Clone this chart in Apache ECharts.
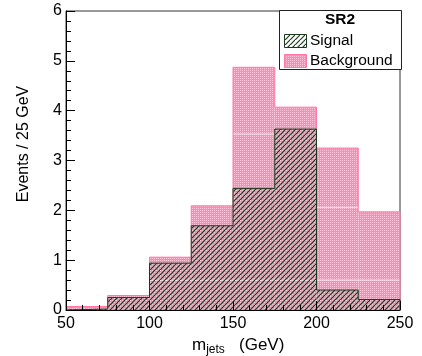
<!DOCTYPE html>
<html><head><meta charset="utf-8">
<script src="https://cdn.jsdelivr.net/npm/echarts@6/dist/echarts.min.js"></script>
<style>html,body{margin:0;padding:0;background:#fff}#c{width:422px;height:356px}</style>
</head><body><div id="c"></div>
<script>
// ---- data ----
const binEdges = [50, 75, 100, 125, 150, 175, 200, 225, 250];
const signal = [0.02, 0.25, 0.94, 1.69, 2.44, 3.63, 0.40, 0.21];
const background = [0.07, 0.29, 1.06, 2.09, 4.87, 4.07, 3.25, 1.97];
// faint internal boundaries seen inside the background fill: [xFrom, xTo, level]
const bgSubLines = [[100, 250, 0.6], [150, 175, 3.53], [200, 225, 2.06]];
const legendTitle = 'SR2';
const legendNames = ['Signal', 'Background'];
const yTitle = 'Events / 25 GeV';

// ---- patterns ----
function hatchCanvas() {
  const s = 5, c = document.createElement('canvas');
  c.width = c.height = s;
  const g = c.getContext('2d');
  g.strokeStyle = '#1e3a1e'; g.lineWidth = 1.15;
  [0, s, 2 * s].forEach(k => { g.beginPath(); g.moveTo(0, k); g.lineTo(k, 0); g.stroke(); });
  return c;
}
function pinkCanvas() {
  const c = document.createElement('canvas');
  c.width = c.height = 2;
  const g = c.getContext('2d');
  g.fillStyle = '#ff8ab4'; g.fillRect(0, 0, 2, 2);
  g.fillStyle = '#ffc2d8'; g.fillRect(0, 0, 1, 1);
  return c;
}
const hatchFill = { image: hatchCanvas(), repeat: 'repeat' };
const pinkFill = { image: pinkCanvas(), repeat: 'repeat' };

function histData(vals) { return vals.map((v, i) => [binEdges[i], v, binEdges[i + 1]]); }
function stepData(vals) {
  const d = [[binEdges[0], 0]];
  vals.forEach((v, i) => d.push([binEdges[i], v]));
  d.push([binEdges[binEdges.length - 1], vals[vals.length - 1]]);
  d.push([binEdges[binEdges.length - 1], 0]);
  return d;
}
function rectItem(fill) {
  return function (params, api) {
    const p0 = api.coord([api.value(0), 0]);
    const p1 = api.coord([api.value(2), api.value(1)]);
    return { type: 'rect', shape: { x: p0[0], y: p1[1], width: p1[0] - p0[0], height: p0[1] - p1[1] }, style: { fill: fill } };
  };
}

const font = '"Liberation Sans", Arial, Helvetica, sans-serif';
const chart = echarts.init(document.getElementById('c'), null, { renderer: 'canvas' });
const axisCommon = {
  axisLine: { show: true, lineStyle: { color: '#000', width: 1 } },
  axisTick: { show: true, inside: true, length: 9, lineStyle: { color: '#000' } },
  minorTick: { show: true, splitNumber: 5, length: 5, lineStyle: { color: '#000' } },
  splitLine: { show: false },
  axisLabel: { color: '#000', fontSize: 16, fontFamily: font },
  z: 10
};
chart.setOption({
  animation: false,
  grid: { left: 66, right: 22, top: 11, bottom: 46, show: true, borderColor: '#333', borderWidth: 1, backgroundColor: 'transparent' },
  xAxis: Object.assign({ type: 'value', min: 50, max: 250, interval: 50 }, axisCommon,
    { axisLabel: Object.assign({}, axisCommon.axisLabel, { margin: 6 }) }),
  yAxis: Object.assign({ type: 'value', min: 0, max: 6, interval: 1 }, axisCommon,
    { axisLabel: Object.assign({}, axisCommon.axisLabel, { margin: 4 }) }),
  series: [
    { type: 'custom', name: 'Background', renderItem: rectItem(pinkFill), data: histData(background), encode: { x: [0, 2], y: 1 } },
    { type: 'line', step: 'end', data: stepData(background), symbol: 'none', lineStyle: { color: '#ff78a4', width: 1 } },
    { type: 'custom', renderItem: function (params, api) {
        const a = api.coord([api.value(0), api.value(2)]);
        const b = api.coord([api.value(1), api.value(2)]);
        return { type: 'line', shape: { x1: a[0], y1: a[1], x2: b[0], y2: b[1] }, style: { stroke: 'rgba(255,255,255,0.75)', lineWidth: 1 } };
      }, data: bgSubLines, encode: { x: [0, 1], y: 2 } },
    { type: 'custom', name: 'Signal', renderItem: rectItem(hatchFill), data: histData(signal), encode: { x: [0, 2], y: 1 } },
    { type: 'line', step: 'end', data: stepData(signal), symbol: 'none', lineStyle: { color: '#1e3a1e', width: 1 } }
  ],
  graphic: [
    { type: 'text', x: 24, y: 144, rotation: Math.PI / 2, style: { text: yTitle, fontSize: 16, fontFamily: font, fill: '#000', align: 'center', verticalAlign: 'middle' } },
    { type: 'text', x: 192, y: 345, style: {
        text: '{m|m}{s|jets}{m|   (GeV)}', align: 'left', verticalAlign: 'middle',
        rich: { m: { fontSize: 17, fontFamily: font, fill: '#000', verticalAlign: 'middle' },
                s: { fontSize: 12, fontFamily: font, fill: '#000', padding: [9, 0, 0, 0] } } } },
    { type: 'rect', shape: { x: 279.5, y: 10.5, width: 122, height: 59 }, style: { fill: '#fff', stroke: '#222', lineWidth: 1 }, z: 20 },
    { type: 'text', x: 340, y: 19.5, z: 21, style: { text: legendTitle, fontSize: 15.5, fontWeight: 'bold', fontFamily: font, fill: '#000', align: 'center', verticalAlign: 'middle' } },
    { type: 'rect', shape: { x: 284.5, y: 34.5, width: 22, height: 13 }, style: { fill: hatchFill, stroke: '#1e3a1e', lineWidth: 1 }, z: 21 },
    { type: 'text', x: 310, y: 40.5, z: 21, style: { text: legendNames[0], fontSize: 15.5, fontFamily: font, fill: '#000', align: 'left', verticalAlign: 'middle' } },
    { type: 'rect', shape: { x: 284.5, y: 54.5, width: 22, height: 13 }, style: { fill: pinkFill, stroke: '#ff78a4', lineWidth: 1 }, z: 21 },
    { type: 'text', x: 310, y: 60.5, z: 21, style: { text: legendNames[1], fontSize: 15.5, fontFamily: font, fill: '#000', align: 'left', verticalAlign: 'middle' } }
  ]
});
</script></body></html>
